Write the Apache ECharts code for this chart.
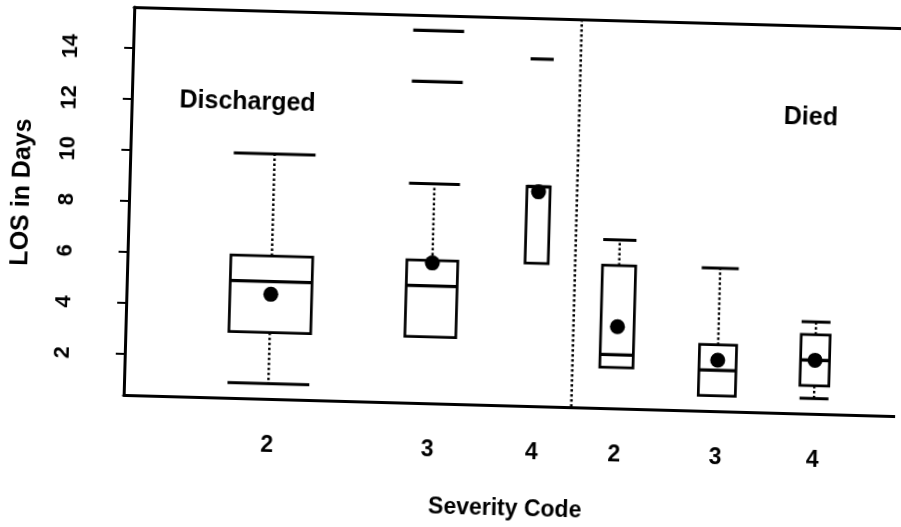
<!DOCTYPE html>
<html><head><meta charset="utf-8">
<script src="https://cdn.jsdelivr.net/npm/echarts@6/dist/echarts.min.js"></script>
<style>
html,body{margin:0;padding:0;background:#fff;overflow:hidden}
#c{width:901px;height:527px;transform:rotate(1.57deg);transform-origin:129px 200px;}
</style></head><body><div id="c"></div>
<script>
// ---- data ----
const xLabels = ['2', '3', '4', '2', '3', '4'];
const groupNames = ['Discharged', 'Died'];
const groupLabelX = [15, 88];
const groupLabelY = [12, 12];
const positions = [18.7, 39.5, 53.0, 63.7, 76.8, 89.4];
const relWidth = [10.6, 6.6, 3.0, 4.3, 4.8, 3.75];
const lowWhisker = [1, 3, 6, 2, 1, 1];
const q1 = [3, 3, 6, 2, 1, 1.5];
const medians = [5, 5, 9, 2.5, 2, 2.5];
const q3 = [6, 6, 9, 6, 3, 3.5];
const highWhisker = [10, 9, 9, 7, 6, 4];
const means = [4.5, 5.9, 8.8, 3.6, 2.4, 2.5];
const outlierGroup = [1, 1, 2];
const outlierValues = [15, 13, 14];
const dividerX = [58];
const yTicks = [2, 4, 6, 8, 10, 12, 14];

const FONT = '"Liberation Sans", Arial, sans-serif';
const chart = echarts.init(document.getElementById('c'), null, {renderer: 'canvas'});

const boxData = positions.map((p, i) => [p, lowWhisker[i], q1[i], medians[i], q3[i], highWhisker[i], relWidth[i]]);
const outData = outlierValues.map((v, i) => [positions[outlierGroup[i]], v, relWidth[outlierGroup[i]]]);
const meanData = positions.map((p, i) => [p, means[i]]);
const labelData = groupNames.map((n, i) => [groupLabelX[i], groupLabelY[i], n]);

function boxRender(params, api) {
  const x = api.value(0), lo = api.value(1), a = api.value(2), m = api.value(3), b = api.value(4), hi = api.value(5), w = api.value(6);
  const pw = api.size([w, 0])[0];
  const pLo = api.coord([x, lo]), pA = api.coord([x, a]), pM = api.coord([x, m]), pB = api.coord([x, b]), pHi = api.coord([x, hi]);
  const cx = pA[0], half = pw / 2;
  const st = {stroke: '#000', lineWidth: 2.7, fill: null};
  const dot = {stroke: '#000', lineWidth: 2.4, lineDash: [2.5, 2.5]};
  const ch = [];
  ch.push({type: 'rect', shape: {x: cx - half, y: pB[1], width: pw, height: pA[1] - pB[1]}, style: st});
  ch.push({type: 'line', shape: {x1: cx - half, y1: pM[1], x2: cx + half, y2: pM[1]}, style: {stroke: '#000', lineWidth: 3.4}});
  if (hi > b) {
    ch.push({type: 'line', shape: {x1: cx, y1: pB[1], x2: cx, y2: pHi[1]}, style: dot});
    ch.push({type: 'line', shape: {x1: cx - half, y1: pHi[1], x2: cx + half, y2: pHi[1]}, style: {stroke: '#000', lineWidth: 3}});
  }
  if (lo < a) {
    ch.push({type: 'line', shape: {x1: cx, y1: pA[1], x2: cx, y2: pLo[1]}, style: dot});
    ch.push({type: 'line', shape: {x1: cx - half, y1: pLo[1], x2: cx + half, y2: pLo[1]}, style: {stroke: '#000', lineWidth: 3}});
  }
  return {type: 'group', children: ch};
}

function outRender(params, api) {
  const p = api.coord([api.value(0), api.value(1)]);
  const half = api.size([api.value(2), 0])[0] / 2;
  return {type: 'line', shape: {x1: p[0] - half, y1: p[1], x2: p[0] + half, y2: p[1]}, style: {stroke: '#000', lineWidth: 3.2}};
}

function dividerRender(params, api) {
  const top = api.coord([api.value(0), 15.6]);
  const bot = api.coord([api.value(0), 0.4]);
  return {type: 'line', shape: {x1: top[0], y1: top[1], x2: bot[0], y2: bot[1]}, style: {stroke: '#000', lineWidth: 2.6, lineDash: [2.5, 2.5]}};
}

function labelRender(params, api) {
  const p = api.coord([api.value(0), api.value(1)]);
  return {type: 'text', x: p[0], y: p[1], style: {text: groupNames[params.dataIndex], fill: '#000', font: 'bold 25px ' + FONT, align: 'center', verticalAlign: 'middle'}};
}

chart.setOption({
  animation: false,
  backgroundColor: '#fff',
  grid: {left: 129, top: 7, right: 0, bottom: 132, containLabel: false},
  xAxis: [{
    type: 'value', min: 0, max: 100, position: 'bottom',
    axisLine: {show: true, onZero: false, lineStyle: {color: '#000', width: 3}},
    axisTick: {show: false}, splitLine: {show: false},
    axisLabel: {
      customValues: positions, margin: 35,
      color: '#000', fontWeight: 'bold', fontSize: 23, fontFamily: FONT,
      formatter: function (v) {
        let k = 0, d = Infinity;
        positions.forEach((p, i) => { if (Math.abs(p - v) < d) { d = Math.abs(p - v); k = i; } });
        return xLabels[k];
      }
    }
  }, {
    type: 'value', min: 0, max: 100, position: 'top',
    axisLine: {show: true, onZero: false, lineStyle: {color: '#000', width: 3}},
    axisTick: {show: false}, axisLabel: {show: false}, splitLine: {show: false}
  }],
  yAxis: {
    type: 'value', min: 0.4, max: 15.6,
    axisLine: {show: true, onZero: false, lineStyle: {color: '#000', width: 3}},
    axisTick: {show: true, customValues: yTicks, length: 9, lineStyle: {color: '#000', width: 2}},
    splitLine: {show: false},
    axisLabel: {customValues: yTicks, rotate: 90, margin: 51, color: '#000', fontWeight: 'bold', fontSize: 22, fontFamily: FONT}
  },
  graphic: [
    {type: 'text', x: 22, y: 195, rotation: Math.PI / 2, style: {text: 'LOS in Days', fill: '#000', font: 'bold 25px ' + FONT, align: 'center', verticalAlign: 'middle'}},
    {type: 'text', x: 513, y: 499, style: {text: 'Severity Code', fill: '#000', font: 'bold 23px ' + FONT, align: 'center', verticalAlign: 'middle'}}
  ],
  series: [
    {type: 'custom', renderItem: dividerRender, data: dividerX.map(v => [v]), silent: true, clip: false},
    {type: 'custom', renderItem: boxRender, data: boxData, silent: true, encode: {x: 0, y: [1, 5]}},
    {type: 'custom', renderItem: outRender, data: outData, silent: true, encode: {x: 0, y: 1}},
    {type: 'scatter', data: meanData, symbol: 'circle', symbolSize: 15, itemStyle: {color: '#000', opacity: 1}, silent: true, z: 5},
    {type: 'custom', renderItem: labelRender, data: labelData, silent: true, encode: {x: 0, y: 1}}
  ]
});
</script></body></html>
